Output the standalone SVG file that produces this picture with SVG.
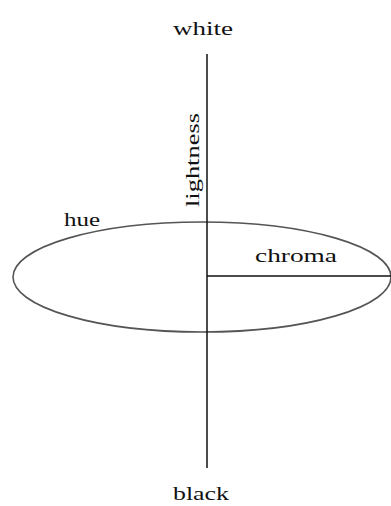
<svg xmlns="http://www.w3.org/2000/svg" width="391" height="506" viewBox="0 0 391 506">
<style>
text{font-family:"Liberation Serif","DejaVu Serif",serif;font-size:19px;fill:#111}
.ax{stroke:#111;stroke-width:1.5;fill:none}
.el{stroke:#555;stroke-width:1.6;fill:none}
</style>
<rect width="391" height="506" fill="#fff"/>
<g id="connectors">
<ellipse class="el" cx="202" cy="277" rx="189" ry="55"/>
<line class="ax" x1="207" y1="54" x2="207" y2="468"/>
<line class="ax" x1="207" y1="276" x2="391" y2="276"/>
</g>
<g id="white"><text x="173" y="35" textLength="60" lengthAdjust="spacingAndGlyphs">white</text></g>
<g id="black"><text x="173" y="500" textLength="56" lengthAdjust="spacingAndGlyphs">black</text></g>
<g id="hue"><text x="64" y="226" textLength="36" lengthAdjust="spacingAndGlyphs">hue</text></g>
<g id="chroma"><text x="255" y="262" textLength="82" lengthAdjust="spacingAndGlyphs">chroma</text></g>
<g id="lightness"><text transform="translate(199,207) rotate(-90)" x="0" y="0" textLength="94" lengthAdjust="spacingAndGlyphs">lightness</text></g>
</svg>
